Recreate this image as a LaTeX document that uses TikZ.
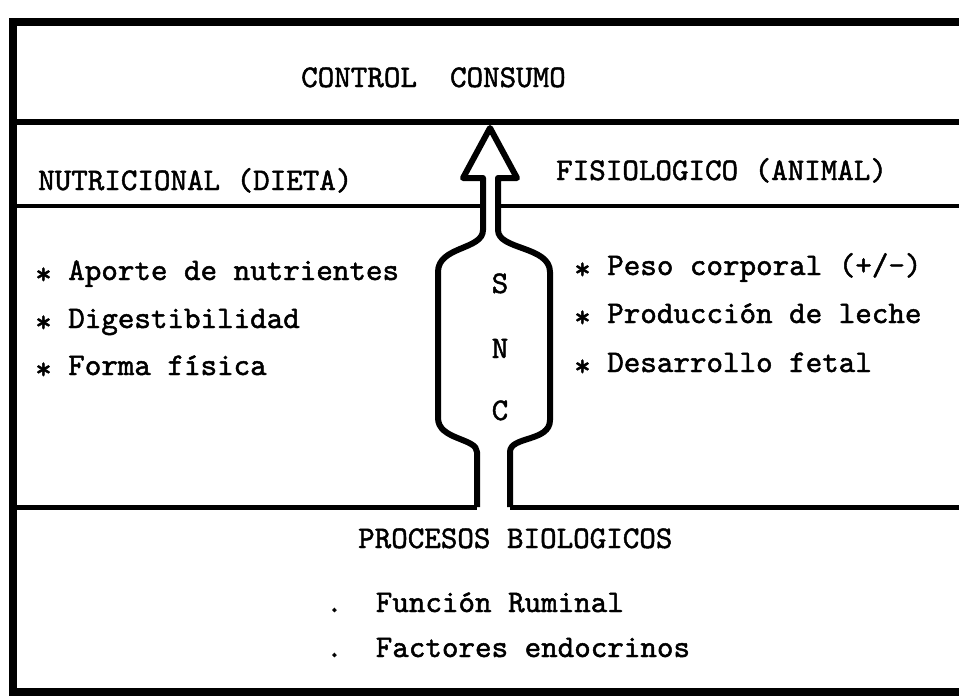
\documentclass[tikz,border=0pt]{standalone}
\usepackage{fontspec}
\newfontfamily\typewr{lmmono10-regular.otf}[FakeBold=1.5]
\usetikzlibrary{positioning}
\newcommand{\estrella}{\raisebox{-4pt}{*}}

\begin{document}
\begin{tikzpicture}[
    x=1pt, y=-1pt,
    txt/.style={font=\typewr\fontsize{31.5}{36}\selectfont, inner sep=0pt, anchor=base west},
    letra/.style={txt, anchor=base},
    marco/.style={line width=8pt, line cap=rect},
    raya/.style={line width=5pt},
    snc/.style={draw, line width=6pt, fill=white, line join=round},
]
\useasboundingbox (0,0) rectangle (959,697);

% marco exterior (abierto a la derecha)
\draw[marco] (975,22) -- (13,22) -- (13,692) -- (975,692);

% separaciones
\draw[raya, line width=6pt] (13,122) -- (975,122);
\draw[raya, line width=4pt] (13,206) -- (975,206);
\coordinate (neckL) at (477,507);
\coordinate (neckR) at (510,507);
\draw[raya] (13,507) -- (neckL);
\draw[raya] (neckR) -- (975,507);

% flecha SNC
\filldraw[snc] (neckL) -- (477,452)
    .. controls (477,438) and (438,440) .. (438,418)
    -- (438,272)
    .. controls (438,246) and (483,250) .. (483,230)
    -- (483,178) -- (463,178) -- (490,128) -- (517,178) -- (498,178)
    -- (498,230)
    .. controls (498,250) and (550,246) .. (550,272)
    -- (550,420)
    .. controls (550,442) and (510,436) .. (510,452)
    -- (neckR);
\node[letra] (s) at (500,293) {S};
\node[letra] (n) at (500,358) {N};
\node[letra] (c) at (500,420) {C};

% textos
\node[txt] (control) at (301,87) {CONTROL\ \ CONSUMO};
\node[txt] (nutri) at (38,190) {NUTRICIONAL (DIETA)};
\node[txt] (fisio) at (556,180) {FISIOLOGICO (ANIMAL)};

\node[txt] (aporte) at (35,280) {\estrella\ Aporte de nutrientes};
\node[txt] (digest) at (35,328) {\estrella\ Digestibilidad};
\node[txt] (forma) at (35,375) {\estrella\ Forma física};

\node[txt] (peso) at (574,275) {\estrella\ Peso corporal (+/-)};
\node[txt] (leche) at (574,323) {\estrella\ Producción de leche};
\node[txt] (fetal) at (574,372) {\estrella\ Desarrollo fetal};

\node[txt] (procesos) at (358,548) {PROCESOS BIOLOGICOS};
\node[txt] (ruminal) at (326,612) {.\ \ Función Ruminal};
\node[txt] (endocr) at (326,657) {.\ \ Factores endocrinos};

\end{tikzpicture}
\end{document}
